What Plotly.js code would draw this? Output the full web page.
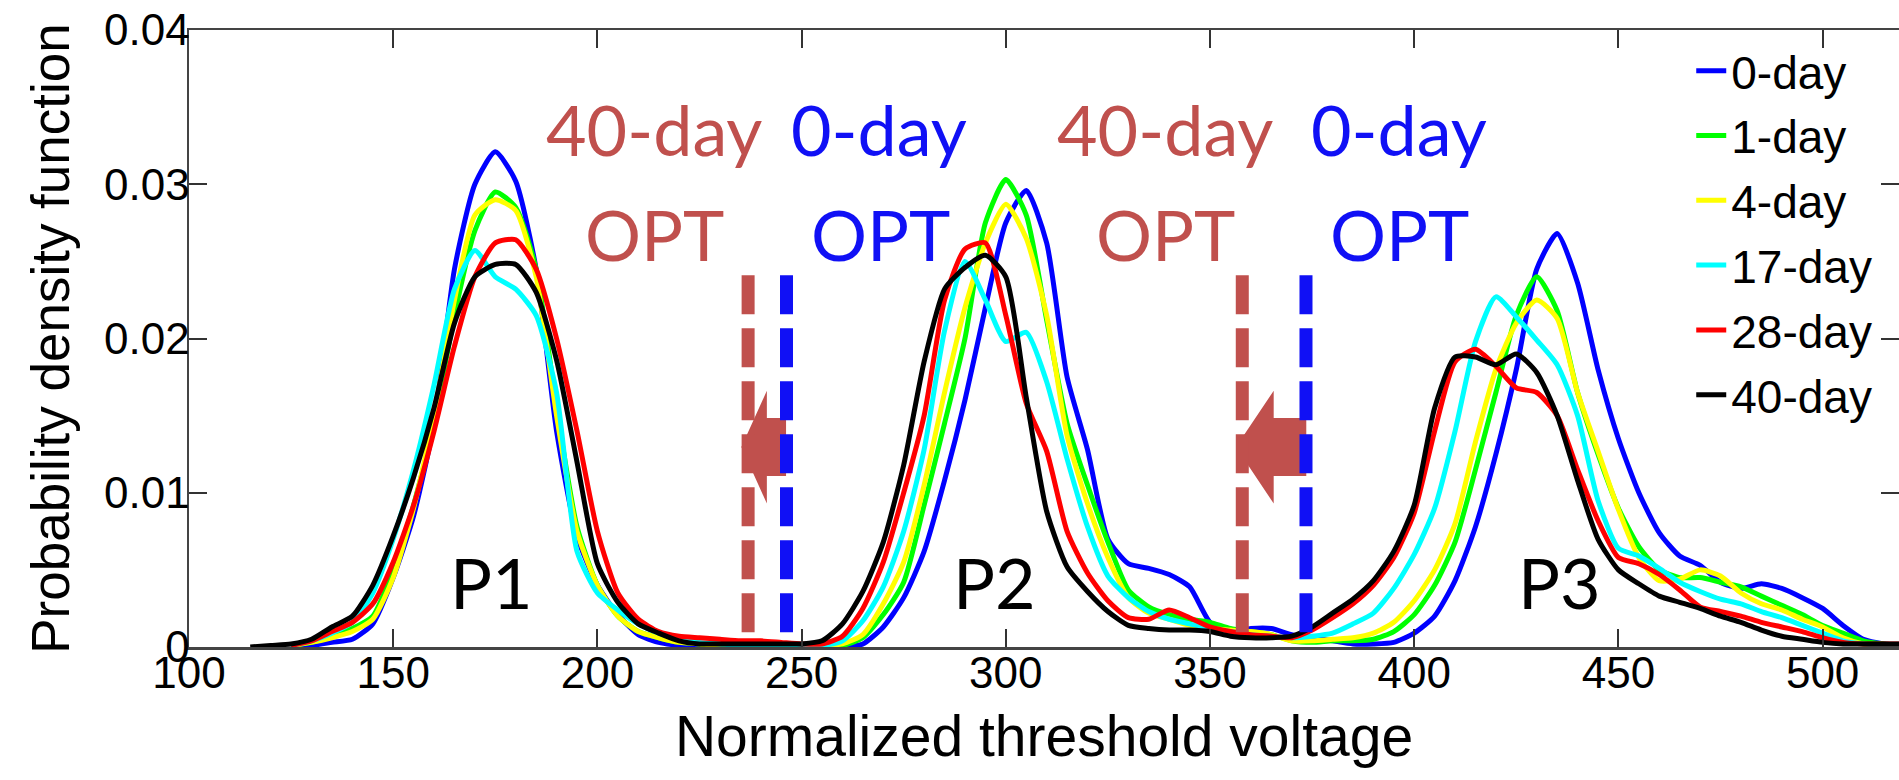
<!DOCTYPE html>
<html>
<head>
<meta charset="utf-8">
<script src="https://cdn.plot.ly/plotly-3.0.1.min.js"></script>
<style>
html,body{margin:0;padding:0;background:#ffffff;}
#chart{width:1899px;height:780px;}
</style>
</head>
<body>
<div id="chart"></div>
<script>
// ---------- data ----------
const voltage = [115,120,125,130,135,140,145,150,155,160,165,170,175,180,185,190,195,200,205,210,215,220,225,230,235,240,245,250,255,260,265,270,275,280,285,290,295,300,305,310,315,320,325,330,335,340,345,350,355,360,365,370,375,380,385,390,395,400,405,410,415,420,425,430,435,440,445,450,455,460,465,470,475,480,485,490,495,500,505,510,515,520];

const pdf0day = [null,null,0.0000,0.0001,0.0003,0.0005,0.0015,0.0045,0.0085,0.0145,0.0245,0.0300,0.0321,0.0302,0.0245,0.0140,0.0072,0.0040,0.0021,0.0008,0.0003,0.0001,0.0000,0.0000,0.0000,0.0000,0.0000,0.0000,0.0000,0.0000,0.0002,0.0013,0.0032,0.0062,0.0108,0.0160,0.0220,0.0275,0.0296,0.0262,0.0175,0.0128,0.0070,0.0054,0.0051,0.0047,0.0039,0.0016,0.0010,0.0012,0.0012,0.0008,0.0006,0.0004,0.0002,0.0002,0.0003,0.0009,0.0020,0.0043,0.0078,0.0125,0.0180,0.0245,0.0268,0.0236,0.0180,0.0135,0.0100,0.0074,0.0059,0.0053,0.0042,0.0038,0.0041,0.0038,0.0032,0.0025,0.0014,0.0005,0.0002,0.0001];

const pdf1day = [null,null,0.0001,0.0003,0.0007,0.0012,0.0020,0.0050,0.0092,0.0145,0.0215,0.0270,0.0295,0.0285,0.0245,0.0155,0.0078,0.0040,0.0020,0.0010,0.0006,0.0003,0.0002,0.0001,0.0001,0.0001,0.0001,0.0001,0.0001,0.0001,0.0006,0.0021,0.0042,0.0092,0.0145,0.0200,0.0275,0.0303,0.0280,0.0212,0.0145,0.0105,0.0068,0.0037,0.0026,0.0021,0.0018,0.0016,0.0012,0.0010,0.0008,0.0004,0.0003,0.0004,0.0004,0.0005,0.0010,0.0021,0.0040,0.0068,0.0115,0.0165,0.0215,0.0240,0.0218,0.0165,0.0125,0.0090,0.0065,0.0050,0.0045,0.0045,0.0042,0.0039,0.0033,0.0027,0.0021,0.0014,0.0009,0.0004,0.0002,0.0001];

const pdf4day = [null,null,0.0001,0.0003,0.0006,0.0010,0.0018,0.0045,0.0090,0.0150,0.0225,0.0280,0.0290,0.0283,0.0240,0.0150,0.0075,0.0040,0.0020,0.0010,0.0006,0.0003,0.0002,0.0001,0.0001,0.0001,0.0001,0.0001,0.0001,0.0002,0.0008,0.0028,0.0055,0.0105,0.0165,0.0220,0.0262,0.0287,0.0265,0.0215,0.0137,0.0093,0.0058,0.0032,0.0022,0.0018,0.0014,0.0012,0.0011,0.0010,0.0008,0.0004,0.0004,0.0005,0.0006,0.0009,0.0016,0.0030,0.0050,0.0080,0.0133,0.0180,0.0210,0.0225,0.0213,0.0165,0.0127,0.0089,0.0058,0.0043,0.0044,0.0050,0.0046,0.0035,0.0028,0.0024,0.0018,0.0013,0.0006,0.0002,0.0001,0.0001];

const pdf17day = [null,null,0.0001,0.0004,0.0009,0.0016,0.0035,0.0070,0.0115,0.0170,0.0232,0.0257,0.0240,0.0232,0.0215,0.0165,0.0062,0.0035,0.0024,0.0015,0.0009,0.0005,0.0003,0.0002,0.0001,0.0001,0.0001,0.0001,0.0001,0.0004,0.0017,0.0039,0.0075,0.0128,0.0205,0.0250,0.0225,0.0198,0.0204,0.0172,0.0122,0.0078,0.0046,0.0032,0.0023,0.0018,0.0015,0.0012,0.0010,0.0008,0.0007,0.0006,0.0007,0.0009,0.0015,0.0022,0.0038,0.0060,0.0090,0.0140,0.0198,0.0227,0.0214,0.0199,0.0183,0.0150,0.0095,0.0064,0.0059,0.0051,0.0042,0.0036,0.0031,0.0028,0.0023,0.0019,0.0014,0.0009,0.0004,0.0002,0.0001,0.0001];

const pdf28day = [null,null,0.0001,0.0004,0.0010,0.0016,0.0028,0.0055,0.0092,0.0140,0.0195,0.0240,0.0262,0.0264,0.0245,0.0200,0.0140,0.0075,0.0035,0.0018,0.0010,0.0007,0.0006,0.0005,0.0004,0.0004,0.0003,0.0002,0.0002,0.0007,0.0025,0.0055,0.0100,0.0150,0.0225,0.0258,0.0262,0.0215,0.0158,0.0127,0.0075,0.0048,0.0030,0.0019,0.0018,0.0024,0.0019,0.0013,0.0010,0.0008,0.0007,0.0006,0.0011,0.0019,0.0028,0.0040,0.0058,0.0087,0.0140,0.0185,0.0193,0.0182,0.0168,0.0165,0.0150,0.0115,0.0082,0.0058,0.0054,0.0047,0.0037,0.0026,0.0023,0.0020,0.0016,0.0013,0.0010,0.0006,0.0003,0.0002,0.0002,0.0002];

const pdf40day = [0.0000,0.0001,0.0002,0.0005,0.0013,0.0020,0.0040,0.0072,0.0110,0.0155,0.0210,0.0240,0.0248,0.0248,0.0230,0.0186,0.0120,0.0054,0.0029,0.0015,0.0009,0.0004,0.0002,0.0002,0.0002,0.0002,0.0002,0.0002,0.0004,0.0015,0.0036,0.0068,0.0118,0.0185,0.0232,0.0246,0.0254,0.0240,0.0162,0.0088,0.0052,0.0036,0.0023,0.0014,0.0012,0.0011,0.0011,0.0010,0.0007,0.0006,0.0006,0.0007,0.0013,0.0022,0.0031,0.0043,0.0062,0.0092,0.0155,0.0188,0.0188,0.0183,0.0190,0.0178,0.0150,0.0108,0.0070,0.0050,0.0041,0.0033,0.0029,0.0025,0.0020,0.0016,0.0011,0.0007,0.0005,0.0003,0.0002,0.0002,0.0002,0.0002];

const seriesNames = ['0-day','1-day','4-day','17-day','28-day','40-day'];
const seriesValues = [pdf0day, pdf1day, pdf4day, pdf17day, pdf28day, pdf40day];
const seriesColors = ['#0000FF','#00FF00','#FFFF00','#00FFFF','#FF0000','#000000'];

const xTickValues = [100,150,200,250,300,350,400,450,500];
const yTickValues = [0,0.01,0.02,0.03,0.04];
const yTickText = ['0','0.01','0.02','0.03','0.04'];

// optimal read thresholds (OPT) for 40-day and 0-day
const opt40day = [236.9, 357.9];
const opt0day = [246.3, 373.5];
const peakNames = ['P1','P2','P3'];

// ---------- traces ----------
const traces = seriesNames.map((name, i) => ({
  type: 'scatter',
  mode: 'lines',
  name: name,
  legendgroup: name,
  x: voltage,
  y: seriesValues[i],
  connectgaps: false,
  line: {color: seriesColors[i], width: 5, shape: 'spline', smoothing: 0.6}
}));

// ---------- annotations & shapes ----------
const RED = '#C0504D';
const BLUE = '#1010F5';
const annFont = 'Lato, "Noto Sans", sans-serif';
const annotations = [];
function addText(text, x, y, color, size) {
  annotations.push({text: text, x: x, y: y, xref: 'x', yref: 'y', showarrow: false,
    xanchor: 'center', yanchor: 'middle', font: {family: annFont, size: size, color: color}});
}
const optRowTop = 0.0336, optRowBottom = 0.0268;
const labelX40 = [213.8, 339.0];
const labelX0 = [268.9, 396.2];
for (let k = 0; k < 2; k++) {
  addText('40-day', labelX40[k], optRowTop, RED, 70);
  addText('OPT', labelX40[k] + 0.2, optRowBottom, RED, 70);
  addText('0-day', labelX0[k], optRowTop, BLUE, 70);
  addText('OPT', labelX0[k] + 0.3, optRowBottom, BLUE, 70);
}
const peakX = [174.1, 297.3, 435.5];
peakNames.forEach((p, i) => addText(p, peakX[i], 0.0042, '#000000', 70));

const shapes = [];
// block arrows pointing from 0-day OPT to 40-day OPT
function arrowPath(tip, base, end) {
  const yc = 0.01296, hh = 0.00366, sh = 0.00188;
  return 'M' + tip + ',' + yc +
    ' L' + base + ',' + (yc + hh) +
    ' L' + base + ',' + (yc + sh) +
    ' L' + end + ',' + (yc + sh) +
    ' L' + end + ',' + (yc - sh) +
    ' L' + base + ',' + (yc - sh) +
    ' L' + base + ',' + (yc - hh) + ' Z';
}
shapes.push({type: 'path', xref: 'x', yref: 'y', path: arrowPath(opt40day[0] - 1.65, 241.49, 246.19),
  fillcolor: RED, line: {width: 0}});
shapes.push({type: 'path', xref: 'x', yref: 'y', path: arrowPath(opt40day[1] - 1.55, 365.59, 373.57),
  fillcolor: RED, line: {width: 0}});
for (let k = 0; k < 2; k++) {
  shapes.push({type: 'line', xref: 'x', yref: 'y', x0: opt40day[k], x1: opt40day[k], y0: 0.0241, y1: 0.0008,
    line: {color: RED, width: 13, dash: '39px,14px'}});
  shapes.push({type: 'line', xref: 'x', yref: 'y', x0: opt0day[k], x1: opt0day[k], y0: 0.0241, y1: 0.0008,
    line: {color: BLUE, width: 13, dash: '39px,14px'}});
}

// ---------- layout ----------
const sansFont = '"Liberation Sans", Arial, sans-serif';
const axisFont = {family: sansFont, size: 44, color: '#000000'};
const layout = {
  width: 1899, height: 780,
  margin: {l: 189, r: 0, t: 30, b: 133, pad: 0},
  paper_bgcolor: '#ffffff', plot_bgcolor: '#ffffff',
  showlegend: true,
  legend: {
    x: 0.8785, y: 0.993, xanchor: 'left', yanchor: 'top',
    bgcolor: 'rgba(0,0,0,0)', borderwidth: 0,
    font: {family: sansFont, size: 46, color: '#000000'},
    tracegroupgap: 2, itemwidth: 30
  },
  xaxis: {
    range: [100, 518.7], tickvals: xTickValues, ticktext: xTickValues.map(String),
    ticks: 'inside', ticklen: 18, tickwidth: 2, tickcolor: '#333333',
    showline: true, linewidth: 2.5, linecolor: '#444444', mirror: 'ticks',
    showgrid: false, zeroline: false, automargin: false,
    tickfont: axisFont, ticklabelstandoff: -14,
    title: {text: 'Normalized threshold voltage', standoff: 20,
      font: {family: sansFont, size: 57, color: '#000000'}}
  },
  yaxis: {
    range: [0, 0.04], tickvals: yTickValues, ticktext: yTickText,
    ticks: 'inside', ticklen: 18, tickwidth: 2, tickcolor: '#333333',
    showline: true, linewidth: 2.5, linecolor: '#444444', mirror: 'ticks',
    showgrid: false, zeroline: false, automargin: false,
    tickfont: axisFont, ticklabelstandoff: -12,
    title: {text: 'Probability density function', standoff: 18,
      font: {family: sansFont, size: 53, color: '#000000'}}
  },
  annotations: annotations,
  shapes: shapes
};

Plotly.newPlot('chart', traces, layout, {displayModeBar: false, staticPlot: true});
</script>
</body>
</html>
